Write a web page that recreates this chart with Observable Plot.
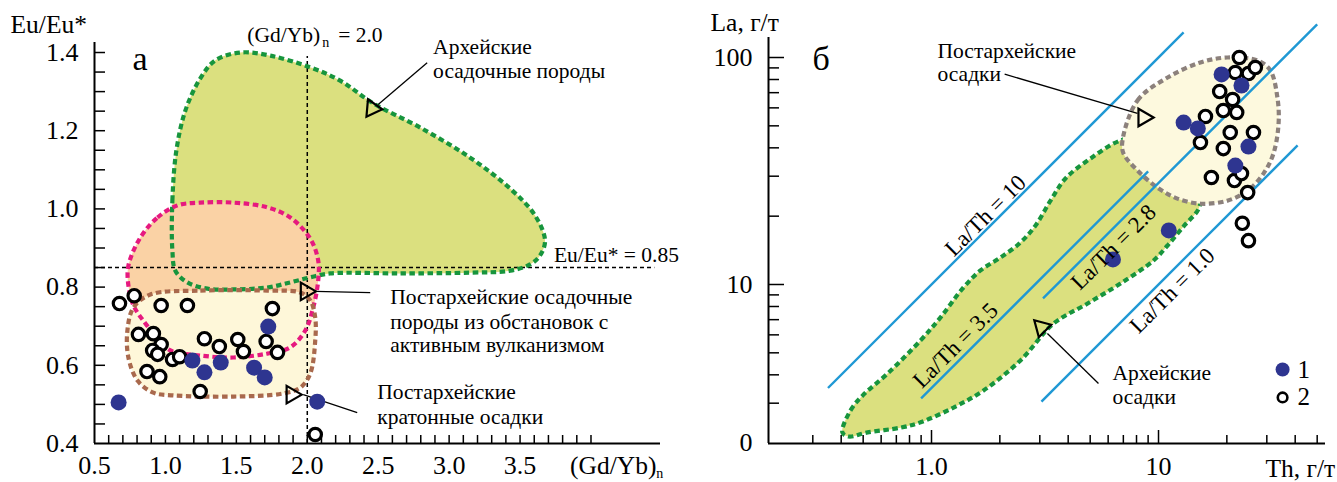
<!DOCTYPE html>
<html><head><meta charset="utf-8">
<script src="https://cdn.jsdelivr.net/npm/d3@7"></script>
<script src="https://cdn.jsdelivr.net/npm/@observablehq/plot@0.6"></script>
<style>
html,body{margin:0;padding:0;background:#fff;}
#wrap{position:relative;width:1337px;height:482px;overflow:hidden;background:#fff;}
#a,#b{position:absolute;top:0;}
#a{left:0;} #b{left:668px;}
#wrap svg, #wrap svg text, #wrap svg g { font-family: "Liberation Serif", "Times New Roman", serif !important; }
</style></head>
<body><div id="wrap"><div id="a"></div><div id="b"></div></div>
<script>
// ---------- Panel а : Eu/Eu* vs (Gd/Yb)n ----------
const gdybFilled = [0.67, 1.19, 1.275, 1.39, 1.625, 1.70, 1.725, 2.07];
const euFilled   = [0.505, 0.612, 0.582, 0.607, 0.594, 0.569, 0.699, 0.507];
const gdybOpen = [0.676, 0.78, 0.97, 1.155, 0.81, 0.915, 0.97, 0.91, 0.945, 1.05, 1.10, 0.87, 0.96, 1.245, 1.275, 1.754, 1.38, 1.51, 1.55, 1.71, 1.79, 2.056];
const euOpen   = [0.758, 0.778, 0.753, 0.753, 0.679, 0.681, 0.653, 0.638, 0.628, 0.615, 0.622, 0.584, 0.571, 0.533, 0.668, 0.745, 0.648, 0.666, 0.635, 0.661, 0.633, 0.423];

// field outlines (data units)
const archeanA_x = [1.049,1.049,1.077,1.141,1.246,1.352,1.528,1.739,2.021,2.232,2.465,2.796,3.148,3.430,3.606,3.676,3.641,3.570,3.430,3.148,2.655,2.162,2.021,1.880,1.718,1.479,1.296,1.155,1.070];
const archeanA_y = [0.894,1.021,1.149,1.252,1.334,1.380,1.400,1.392,1.362,1.328,1.270,1.208,1.131,1.052,0.983,0.919,0.881,0.858,0.842,0.837,0.835,0.835,0.825,0.812,0.799,0.794,0.796,0.812,0.842];
const volcanic_x = [0.824,0.944,1.085,1.246,1.479,1.718,1.880,2.021,2.077,2.077,2.042,1.986,1.880,1.718,1.479,1.246,1.035,0.944,0.859,0.775,0.739,0.739];
const volcanic_y = [0.927,0.978,1.009,1.016,1.016,1.004,0.978,0.924,0.868,0.817,0.748,0.689,0.646,0.630,0.620,0.625,0.638,0.671,0.707,0.753,0.804,0.855];
const craton_x = [0.894,1.246,1.718,1.951,2.021,2.056,2.056,2.021,1.951,1.831,1.479,1.056,0.915,0.803,0.739,0.732,0.775];
const craton_y = [0.781,0.791,0.791,0.786,0.766,0.722,0.663,0.579,0.543,0.528,0.520,0.523,0.530,0.561,0.620,0.689,0.748];

const xTicksA = [0.5, 1.0, 1.5, 2.0, 2.5, 3.0, 3.5];
const yTicksA = [0.4, 0.6, 0.8, 1.0, 1.2, 1.4];

// ---------- Panel б : La vs Th ----------
const thFilled = [18.96, 23.2, 12.9, 14.9, 24.9, 21.8, 11.1, 6.3];
const laFilled = [84.2, 75.3, 51.7, 48.7, 40.5, 33.4, 17.3, 12.9];
const thOpen = [22.7, 21.8, 24.9, 26.7, 18.6, 21.2, 19.3, 22.1, 16.1, 20.7, 26.2, 15.3, 19.3, 17.1, 21.6, 23.2, 24.7, 23.4, 24.9];
const laOpen = [100, 85.9, 85.0, 90.3, 70.8, 65.3, 58.4, 57.3, 55.0, 46.7, 46.7, 42.2, 39.7, 29.6, 28.7, 30.8, 25.4, 18.6, 15.6];

const archeanB_th = [0.405,0.440,0.497,0.640,0.895,1.096,1.383,1.643,2.014,2.466,2.872,3.344,3.892,5.015,6.80,9.22,12.9,15.3,15.0,13.0,10.96,9.51,6.80,4.87,3.45,2.466,1.694,1.250,0.895,0.730,0.523,0.431];
const archeanB_la = [2.23,2.79,3.24,4.05,5.67,7.16,9.70,11.53,13.15,15.31,18.2,23.4,29.3,35.9,43.1,45.3,36.0,25.0,21.5,18.2,14.85,12.76,10.1,8.25,6.73,4.63,3.41,2.87,2.47,2.34,2.23,2.14];
const postB_th = [6.94,8.08,10.96,15.3,20.1,27.3,31.1,33.4,33.8,32.1,29.0,24.7,20.1,15.3,12.1,9.9,8.08,7.01];
const postB_la = [43.1,64.7,81.6,95.1,100,97.0,87.6,66.6,51.2,37.8,30.8,25.9,23.4,22.7,23.9,26.7,31.8,37.8];

// La/Th reference lines: ratio, segment ends (Th, La)
const ratios = [10, 3.5, 2.8, 1.0];
const ratioTh0 = [0.35, 0.9, 3.1, 3.05];
const ratioLa0 = [3.5, 3.15, 8.68, 3.05];
const ratioTh1 = [12.9, 9.0, 50, 41];
const ratioLa1 = [129, 31.5, 140, 41];

const yTicksB = [2, 10, 100];
const yTickLabelsB = ["0", "10", "100"];
const xTicksB = [1, 10];
const xTickLabelsB = ["1.0", "10"];

// ---------- styles ----------
const F = "Liberation Serif";
const GREEN_FILL = "#dbe07f", GREEN = "#17953d";
const PEACH = "#fad2a5", MAGENTA = "#e6197f";
const CREAM = "#fef7d9", BROWN = "#a9694d";
const CREAM_B = "#fdf9de", GREY = "#8c817c";
const BLUE = "#1f98d4", DOT = "#2e3590";
const DASH = "5.5,3.5";
const outline = (stroke) => ({x: "x", y: "y", curve: "catmull-rom-closed", fill: "none", stroke, strokeWidth: 4.2, strokeDasharray: DASH, strokeLinecap: "butt", strokeLinejoin: "miter"});
const area = (fill) => ({x: "x", y: "y", curve: "catmull-rom-closed", fill, stroke: "none"});

const zipXY = (xs, ys) => xs.map((x, i) => ({x, y: ys[i]}));
const T = (t, x, y) => ({t, x, y});
const txt = (size, extra = {}) => ({x: "x", y: "y", text: "t", fontSize: size, fontFamily: F, textAnchor: "start", lineAnchor: "bottom", fill: "black", ...extra});

const archA = zipXY(archeanA_x, archeanA_y);
const volc = zipXY(volcanic_x, volcanic_y);
const crat = zipXY(craton_x, craton_y);

const textA22 = [
  T("Архейские", 2.887, 1.397), T("осадочные породы", 2.887, 1.336),
  T("Постархейские осадочные", 2.585, 0.758), T("породы из обстановок с", 2.585, 0.694),
  T("активным вулканизмом", 2.585, 0.633),
  T("Постархейские", 2.493, 0.515), T("кратонные осадки", 2.493, 0.451),
  T("Eu/Eu* = 0.85", 3.739, 0.865),
  T("(Gd/Yb)", 1.577, 1.426), T("= 2.0", 2.218, 1.428)
];
const textATitles = [T("Eu/Eu*", -0.092, 1.451), T("(Gd/Yb)", 3.852, 0.323)];
const textAsub = [T("n", 2.106, 1.413), T("n", 4.46, 0.312)];
const arrowsA = [
  {x1: 2.845, y1: 1.374, x2: 2.50, y2: 1.267, tx: 2.458, ty: 1.257, rot: 95},
  {x1: 2.056, y1: 0.789, x2: 2.444, y2: 0.786, tx: 1.99, ty: 0.789, rot: 90},
  {x1: 1.972, y1: 0.525, x2: 2.352, y2: 0.479, tx: 1.89, ty: 0.525, rot: 90}
];

const ax = (opts) => ({label: null, strokeWidth: 1.5, fontFamily: F, ...opts});

const chartA = Plot.plot({
  width: 720, height: 482,
  marginLeft: 94, marginRight: 60, marginTop: 42, marginBottom: 39,
  style: {background: "transparent", overflow: "visible", fontFamily: F, color: "black"},
  x: {type: "linear", domain: [0.5, 4.49], label: null},
  y: {type: "linear", domain: [0.4, 1.4256], label: null},
  marks: [
    Plot.line(archA, area(GREEN_FILL)),
    Plot.line(volc, area(PEACH)),
    Plot.line(crat, area(CREAM)),
    Plot.ruleY([0.85], {x1: 0.5, x2: 4.45, stroke: "black", strokeWidth: 1.5, strokeDasharray: "4,3"}),
    Plot.ruleX([2.0], {y1: 0.4, y2: 1.39, stroke: "black", strokeWidth: 1.5, strokeDasharray: "4,3"}),
    Plot.line(archA, outline(GREEN)),
    Plot.line(volc, outline(MAGENTA)),
    Plot.line(crat, outline(BROWN)),
    // axes
    Plot.ruleX([0.5], {y1: 0.4, y2: 1.4256, stroke: "black", strokeWidth: 2}),
    Plot.ruleY([0.4], {x1: 0.5, x2: 4.49, stroke: "black", strokeWidth: 2}),
    Plot.axisY(ax({ticks: d3.range(9, 29).map(d => d * 0.05), tickSize: -11, tickFormat: () => ""})),
    Plot.axisY(ax({ticks: yTicksA, tickSize: 0, tickPadding: 16, tickFormat: d3.format(".1f"), fontSize: 26})),
    Plot.axisX(ax({ticks: d3.range(6, 41).map(d => d / 10), tickSize: -8, tickFormat: () => ""})),
    Plot.axisX(ax({ticks: xTicksA, tickSize: 0, tickPadding: 12, tickFormat: d3.format(".1f"), fontSize: 26})),
    // annotation arrows
    Plot.link(arrowsA, {x1: "x1", y1: "y1", x2: "x2", y2: "y2", stroke: "black", strokeWidth: 1.3}),
    Plot.dot(arrowsA, {x: "tx", y: "ty", symbol: "triangle", r: 6.5, rotate: "rot", fill: "none", stroke: "black", strokeWidth: 2.2}),
    // data
    Plot.dot(zipXY(gdybOpen, euOpen), {x: "x", y: "y", r: 6.2, fill: "white", stroke: "black", strokeWidth: 3.2}),
    Plot.dot(zipXY(gdybFilled, euFilled), {x: "x", y: "y", r: 8, fill: DOT, stroke: "none"}),
    // texts
    Plot.text(textA22, txt(21.5)),
    Plot.text(textATitles, txt(25.5)),
    Plot.text(textAsub, txt(14)),
    Plot.text([T("а", 0.768, 1.354)], txt(34))
  ]
});
document.getElementById("a").appendChild(chartA);

// ---------- Panel б ----------
const archB = zipXY(archeanB_th, archeanB_la);
const postB = zipXY(postB_th, postB_la);
const ratioSeg = ratios.map((r, i) => ({r, x1: ratioTh0[i], y1: ratioLa0[i], x2: ratioTh1[i], y2: ratioLa1[i]}));
const ratioLabels = [T("La/Th = 10", 1.73, 20.1), T("La/Th = 3.5", 1.276, 5.39), T("La/Th = 2.8", 6.34, 14.6), T("La/Th = 1.0", 11.5, 9.41)];
const textB22 = [T("Постархейские", 1.063, 99.0), T("осадки", 1.063, 78.5), T("Архейские", 6.27, 3.78), T("осадки", 6.27, 2.99)];
const textBTitles = [T("La, г/т", 0.1063, 131.5), T("Th, г/т", 29.6, 1.42)];
const textBLegend = [T("1", 40.9, 3.89), T("2", 40.9, 2.96)];
const arrowsB = [
  {x1: 2.10, y1: 84.5, x2: 8.08, y2: 56.7, tx: 8.59, ty: 54.4, rot: 90},
  {x1: 5.44, y1: 3.66, x2: 3.24, y2: 6.08, tx: 3.05, ty: 6.47, rot: -45}
];

const chartB = Plot.plot({
  width: 669, height: 482,
  marginLeft: 100, marginRight: 12, marginTop: 37, marginBottom: 39,
  style: {background: "transparent", overflow: "visible", fontFamily: F, color: "black"},
  x: {type: "log", domain: [0.1914, 54.4], label: null},
  y: {type: "log", domain: [1.993, 122.5], label: null},
  marks: [
    Plot.line(archB, area(GREEN_FILL)),
    Plot.line(archB, outline(GREEN)),
    Plot.line(postB, area(CREAM_B)),
    Plot.line(postB, outline(GREY)),
    Plot.link(ratioSeg, {x1: "x1", y1: "y1", x2: "x2", y2: "y2", stroke: BLUE, strokeWidth: 2.4}),
    // axes
    Plot.ruleX([0.1914], {y1: 1.993, y2: 122.5, stroke: "black", strokeWidth: 2}),
    Plot.ruleY([1.993], {x1: 0.1914, x2: 54.4, stroke: "black", strokeWidth: 2}),
    Plot.axisY(ax({ticks: [3,4,5,6,7,8,9,20,30,40,50,60,70,80,90], tickSize: -11, tickFormat: () => ""})),
    Plot.axisY(ax({ticks: [10, 100], tickSize: -16, tickFormat: () => ""})),
    Plot.axisY(ax({ticks: yTicksB, tickSize: 0, tickPadding: 16, tickFormat: d => yTickLabelsB[yTicksB.indexOf(d)], fontSize: 26})),
    Plot.axisX(ax({ticks: [0.3,0.4,0.5,0.6,0.7,0.8,0.9,2,3,4,5,6,7,8,9,20,30,40,50], tickSize: -8, tickFormat: () => ""})),
    Plot.axisX(ax({ticks: xTicksB, tickSize: -13, tickFormat: () => ""})),
    Plot.axisX(ax({ticks: xTicksB, tickSize: 0, tickPadding: 13, tickFormat: d => xTickLabelsB[xTicksB.indexOf(d)], fontSize: 26})),
    // arrows
    Plot.link(arrowsB, {x1: "x1", y1: "y1", x2: "x2", y2: "y2", stroke: "black", strokeWidth: 1.3}),
    Plot.dot(arrowsB, {x: "tx", y: "ty", symbol: "triangle", r: 6.5, rotate: "rot", fill: "none", stroke: "black", strokeWidth: 2.2}),
    // data
    Plot.dot(zipXY(thOpen, laOpen), {x: "x", y: "y", r: 6.2, fill: "white", stroke: "black", strokeWidth: 3.2}),
    Plot.dot(zipXY(thFilled, laFilled), {x: "x", y: "y", r: 8, fill: DOT, stroke: "none"}),
    // legend symbols
    Plot.dot([{x: 35.2, y: 4.22}], {x: "x", y: "y", r: 7, fill: DOT, stroke: "none"}),
    Plot.dot([{x: 35.2, y: 3.18}], {x: "x", y: "y", r: 4.8, fill: "white", stroke: "black", strokeWidth: 2.6}),
    // texts
    Plot.text(ratioLabels, txt(23, {rotate: -45, textAnchor: "middle", lineAnchor: "middle"})),
    Plot.text(textB22, txt(21.5)),
    Plot.text(textBTitles, txt(25.5)),
    Plot.text(textBLegend, txt(25)),
    Plot.text([T("б", 0.299, 87.7)], txt(34))
  ]
});
document.getElementById("b").appendChild(chartB);
</script>
</body></html>
